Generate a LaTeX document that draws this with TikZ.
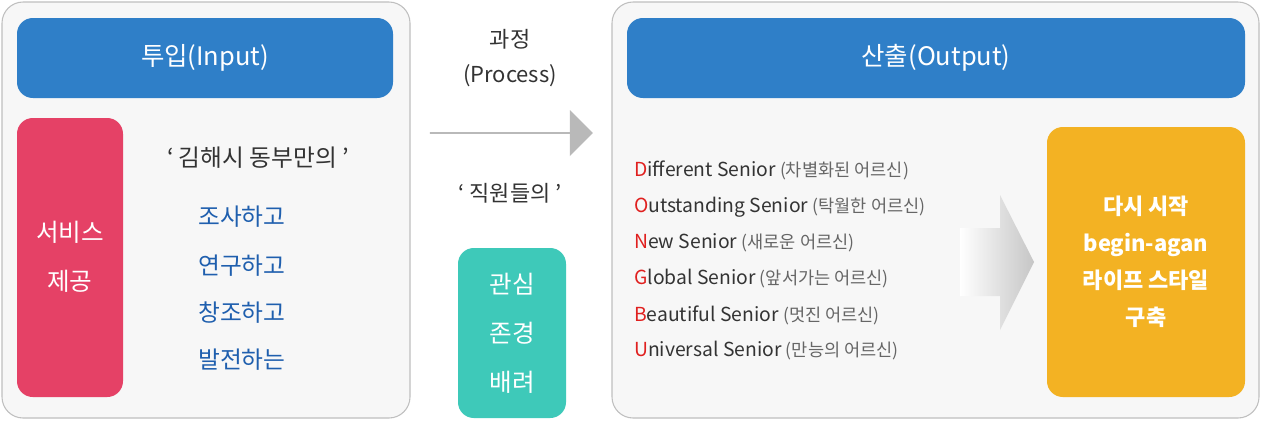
\documentclass[tikz,border=0pt]{standalone}
\usepackage{fontspec}
\setmainfont{Noto Sans CJK KR}
\usetikzlibrary{shapes.arrows}
\definecolor{hblue}{HTML}{2F7FC8}
\definecolor{tblue}{HTML}{1F5FAE}
\definecolor{rred}{HTML}{E54166}
\definecolor{teal}{HTML}{3EC9B9}
\definecolor{orng}{HTML}{F3B223}
\definecolor{dred}{HTML}{E0201F}
\definecolor{dgray}{HTML}{333333}
\definecolor{lgray}{HTML}{666666}
\definecolor{panel}{HTML}{F7F7F7}
\tikzset{
 panelbox/.style={draw=gray!50,fill=panel,rounded corners=12pt,line width=0.6pt},
 colbox/.style={rounded corners=9pt,draw=none},
 wtxt/.style={text=white,align=center,font=\fontsize{14.5}{24}\selectfont},
 btxt/.style={text=tblue,font=\fontsize{13.5}{16}\selectfont,anchor=west},
 li/.style={anchor=west,text=dgray,font=\fontsize{11}{13}\selectfont\addfontfeature{FakeBold=0}},
}
\newcommand{\kp}[1]{{\color{lgray}\fontsize{10}{12}\selectfont #1}}
\newcommand{\fl}[1]{{\color{dred}#1}}
\begin{document}
\begin{tikzpicture}[x=0.02cm,y=-0.02cm]
\useasboundingbox (0,0) rectangle (1261,420);
\fill[white] (0,0) rectangle (1261,420);
% left panel
\draw[panelbox] (2,2) rectangle (410,418);
\fill[hblue,colbox] (17,18) rectangle (393,98);
\node[wtxt] (inh) at (205,58) {투입(Input)};
\fill[rred,colbox] (17,118) rectangle (123,397);
\node[wtxt,font=\fontsize{14}{28}\selectfont] (svc) at (70,257) {서비스\\제공};
\node[text=dgray,font=\fontsize{13.5}{16}\selectfont] (gh) at (258,158) {‘ 김해시 동부만의 ’};
\node[btxt] (b1) at (192,217) {조사하고};
\node[btxt] (b2) at (192,266) {연구하고};
\node[btxt] (b3) at (192,313) {창조하고};
\node[btxt] (b4) at (192,360) {발전하는};
% middle
\node[text=dgray,align=center,font=\fontsize{12.5}{20}\selectfont] (proc) at (510,58) {과정\\(Process)};
\node[single arrow,fill=gray!55,draw=none,minimum height=163*0.02cm,minimum width=46*0.02cm,single arrow head extend=8*0.02cm,single arrow tip angle=90,inner sep=0pt] (ar1) at (511,133) {};
\node[text=dgray,font=\fontsize{12.5}{16}\selectfont] (staff) at (510,193) {‘ 직원들의 ’};
\fill[teal,colbox] (458,248) rectangle (566,418);
\node[wtxt,font=\fontsize{14}{28}\selectfont] (care) at (512,333) {관심\\존경\\배려};
% right panel
\draw[panelbox] (612,2) rectangle (1259,418);
\fill[hblue,colbox] (627,18) rectangle (1245,98);
\node[wtxt] (outh) at (936,58) {산출(Output)};
\node[li] (l1) at (628,170) {\fl{D}ifferent Senior \kp{(차별화된 어르신)}};
\node[li] (l2) at (628,207) {\fl{O}utstanding Senior \kp{(탁월한 어르신)}};
\node[li] (l3) at (628,243) {\fl{N}ew Senior \kp{(새로운 어르신)}};
\node[li] (l4) at (628,279) {\fl{G}lobal Senior \kp{(앞서가는 어르신)}};
\node[li] (l5) at (628,315) {\fl{B}eautiful Senior \kp{(멋진 어르신)}};
\node[li] (l6) at (628,351) {\fl{U}niversal Senior \kp{(만능의 어르신)}};
\shade[left color=white,right color=gray!45,draw=none] (960,228) -- (1000,228) -- (1000,195) -- (1034,262) -- (1000,330) -- (1000,296) -- (960,296) -- cycle;
\fill[orng,colbox] (1047,127) rectangle (1245,397);
\node[wtxt,font=\bfseries\fontsize{12.5}{21}\selectfont] (res) at (1146,262) {다시 시작\\begin-agan\\라이프 스타일\\구축};
\end{tikzpicture}
\end{document}
